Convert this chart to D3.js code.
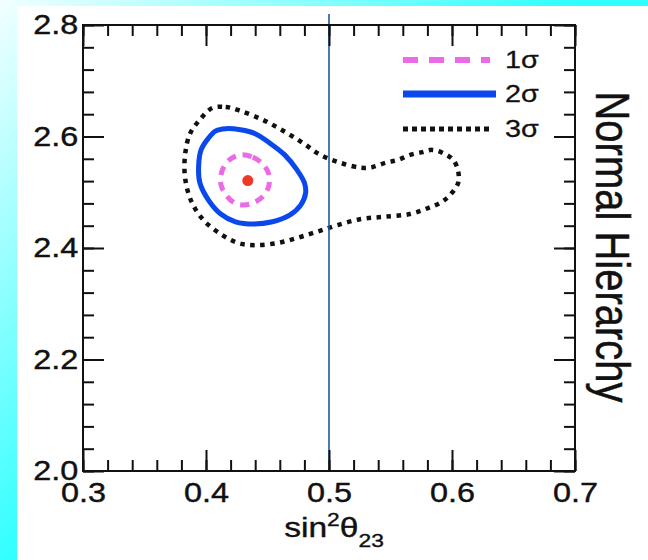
<!DOCTYPE html>
<html><head><meta charset="utf-8">
<script src="https://cdn.jsdelivr.net/npm/d3@7"></script>
<style>html,body{margin:0;padding:0;background:#fff;}svg{display:block;}</style>
</head><body>
<script>
// ---- data ----
const xTicks = [0.3, 0.4, 0.5, 0.6, 0.7];
const yTicks = [2.0, 2.2, 2.4, 2.6, 2.8];
const bestFit = [0.434, 2.521];
const sigma1X = [0.428,0.438,0.446,0.451,0.451,0.446,0.436,0.425,0.417,0.412,0.413,0.419];
const sigma1Y = [2.567,2.563,2.551,2.533,2.511,2.492,2.479,2.479,2.493,2.515,2.538,2.558];
const sigma2X = [0.416,0.428,0.440,0.452,0.464,0.474,0.480,0.481,0.477,0.468,0.454,0.439,0.424,0.412,0.402,0.395,0.394,0.396,0.402,0.408];
const sigma2Y = [2.614,2.612,2.605,2.588,2.567,2.540,2.517,2.499,2.477,2.459,2.447,2.443,2.447,2.461,2.486,2.517,2.547,2.576,2.597,2.610];
const sigma3X = [0.405,0.416,0.428,0.446,0.463,0.479,0.493,0.509,0.526,0.535,0.546,0.556,0.566,0.576,0.584,0.593,0.601,0.605,0.605,0.600,0.592,0.581,0.566,0.545,0.526,0.507,0.490,0.474,0.458,0.440,0.426,0.412,0.398,0.388,0.383,0.383,0.387,0.395];
const sigma3Y = [2.651,2.653,2.646,2.630,2.610,2.588,2.567,2.553,2.544,2.545,2.553,2.558,2.567,2.572,2.576,2.570,2.558,2.538,2.517,2.499,2.483,2.472,2.461,2.456,2.452,2.441,2.429,2.418,2.409,2.405,2.409,2.425,2.450,2.484,2.526,2.567,2.605,2.630];
const legendLabels = ["1σ", "2σ", "3σ"];
const refLineX = 0.5;

// ---- layout ----
const W = 648, H = 560;
const L = 83, R = 575, T = 25, B = 471;
const SX = 1.2; // horizontal stretch of lettering

const svg = d3.select("body").append("svg").attr("width", W).attr("height", H);
const defs = svg.append("defs");
const grad = defs.append("linearGradient").attr("id","bg").attr("gradientUnits","userSpaceOnUse")
  .attr("x1",0).attr("y1",0).attr("x2",290).attr("y2",290);
grad.append("stop").attr("offset",0).attr("stop-color","#f2ffff");
grad.append("stop").attr("offset",1).attr("stop-color","#2effff");
svg.append("rect").attr("width",W).attr("height",H).attr("fill","url(#bg)");
svg.append("rect").attr("x",17).attr("y",6).attr("width",W-17).attr("height",H-6).attr("fill","#fff");

const x = d3.scaleLinear().domain([0.3, 0.7]).range([L, R]);
const y = d3.scaleLinear().domain([2.0, 2.8]).range([B, T]);

const line = d3.line().x(d => x(d[0])).y(d => y(d[1])).curve(d3.curveCatmullRomClosed.alpha(0.5));
const pts = (xs, ys) => xs.map((v, i) => [v, ys[i]]);

// contours
svg.append("path").attr("d", line(pts(sigma3X, sigma3Y))).attr("fill","none")
  .attr("stroke","#111").attr("stroke-width",4.5).attr("stroke-dasharray","4.5,5.5");
svg.append("path").attr("d", line(pts(sigma2X, sigma2Y))).attr("fill","none")
  .attr("stroke","#0a48ee").attr("stroke-width",5);
svg.append("path").attr("d", line(pts(sigma1X, sigma1Y))).attr("fill","none")
  .attr("stroke","#ea6ae8").attr("stroke-width",5).attr("stroke-dasharray","9,7");
svg.append("circle").attr("cx", x(bestFit[0])).attr("cy", y(bestFit[1])).attr("r",5.5).attr("fill","#ec3a26");

// reference line
svg.append("line").attr("x1", x(refLineX)).attr("x2", x(refLineX)).attr("y1", 14).attr("y2", B)
  .attr("stroke","#1d5a9e").attr("stroke-width",1.6);

// axes
const font = "'Liberation Sans', Arial, Helvetica, sans-serif";
const minorX = d3.range(0, 21).map(i => 0.3 + i * 0.02);
const minorY = d3.range(0, 21).map(i => 2.0 + i * 0.04);

function styleAxis(g) {
  g.select(".domain").remove();
  g.selectAll("line").attr("stroke","#111").attr("stroke-width",2);
  g.selectAll("text").attr("fill","#111").attr("stroke","#111").attr("stroke-width",0.4)
    .style("font-family", font).style("font-size","27px").attr("transform",`scale(${SX},1)`);
}
svg.append("g").attr("transform",`translate(0,${B})`)
  .call(d3.axisBottom(x).tickValues(minorX).tickSize(-11).tickSizeOuter(0).tickFormat("")).call(styleAxis);
svg.append("g").attr("transform",`translate(0,${B})`)
  .call(d3.axisBottom(x).tickValues(xTicks).tickSize(-21).tickSizeOuter(0).tickPadding(12).tickFormat(d3.format(".1f"))).call(styleAxis);
svg.append("g").attr("transform",`translate(0,${T})`)
  .call(d3.axisTop(x).tickValues(minorX).tickSize(-11).tickSizeOuter(0).tickFormat("")).call(styleAxis);
svg.append("g").attr("transform",`translate(0,${T})`)
  .call(d3.axisTop(x).tickValues(xTicks).tickSize(-21).tickSizeOuter(0).tickFormat("")).call(styleAxis);
svg.append("g").attr("transform",`translate(${L},0)`)
  .call(d3.axisLeft(y).tickValues(minorY).tickSize(-11).tickSizeOuter(0).tickFormat("")).call(styleAxis);
svg.append("g").attr("transform",`translate(${L},0)`)
  .call(d3.axisLeft(y).tickValues(yTicks).tickSize(-21).tickSizeOuter(0).tickPadding(4).tickFormat(d3.format(".1f"))).call(styleAxis);
svg.append("g").attr("transform",`translate(${R},0)`)
  .call(d3.axisRight(y).tickValues(minorY).tickSize(-11).tickSizeOuter(0).tickFormat("")).call(styleAxis);
svg.append("g").attr("transform",`translate(${R},0)`)
  .call(d3.axisRight(y).tickValues(yTicks).tickSize(-21).tickSizeOuter(0).tickFormat("")).call(styleAxis);

svg.append("rect").attr("x",L).attr("y",T).attr("width",R-L).attr("height",B-T)
  .attr("fill","none").attr("stroke","#111").attr("stroke-width",2);

// axis title
const xt = svg.append("text").attr("transform",`translate(334,537) scale(${SX},1)`).attr("text-anchor","middle")
  .attr("fill","#111").attr("stroke","#111").attr("stroke-width",0.4)
  .style("font-family", font).style("font-size","28px");
xt.append("tspan").text("sin");
xt.append("tspan").attr("dy",-11).style("font-size","19px").text("2");
xt.append("tspan").attr("dy",11).text("θ");
xt.append("tspan").attr("dy",10).style("font-size","19px").text("23");

svg.append("text").attr("transform",`translate(596,247) rotate(90) scale(1,${SX})`).attr("text-anchor","middle")
  .attr("fill","#111").attr("stroke","#111").attr("stroke-width",0.4)
  .style("font-family", font).style("font-size","40px").text("Normal Hierarchy");

// legend
const legY = [60, 94, 129];
const legStyles = [
  {stroke:"#ea6ae8", w:6, dash:"15,11"},
  {stroke:"#0a48ee", w:7, dash:null},
  {stroke:"#111", w:5, dash:"5,4"}
];
legendLabels.forEach((lab, i) => {
  const s = legStyles[i];
  const ln = svg.append("line").attr("x1",403).attr("x2",i===1?496:490).attr("y1",legY[i]).attr("y2",legY[i])
    .attr("stroke",s.stroke).attr("stroke-width",s.w);
  if (s.dash) ln.attr("stroke-dasharray", s.dash);
  svg.append("text").attr("transform",`translate(505,${legY[i]+8}) scale(${SX},1)`).attr("fill","#111")
    .attr("stroke","#111").attr("stroke-width",0.3)
    .style("font-family", font).style("font-size","24px").text(lab);
});
</script>
</body></html>
